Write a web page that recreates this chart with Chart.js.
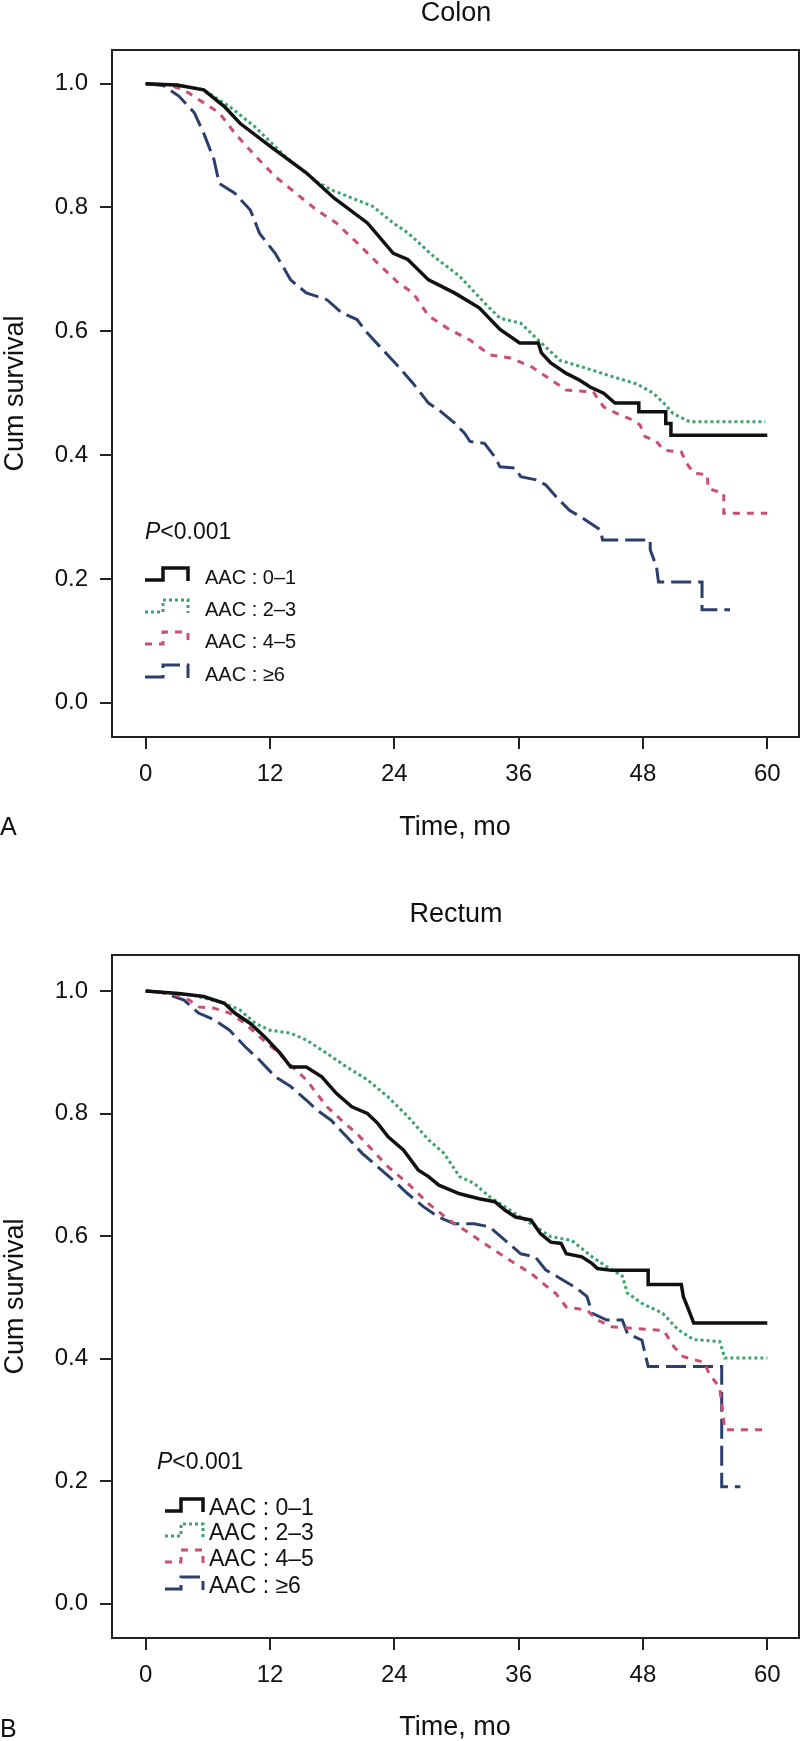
<!DOCTYPE html>
<html>
<head>
<meta charset="utf-8">
<script src="https://cdn.jsdelivr.net/npm/chart.js@4.4.1/dist/chart.umd.min.js"></script>
<style>
  html, body { margin: 0; padding: 0; background: #fff; }
  canvas { display: block; }
</style>
</head>
<body>
<canvas id="colonChart" width="800" height="870"></canvas>
<canvas id="rectumChart" width="800" height="871"></canvas>
<script>
// axis ticks and group names
const monthTicks = [0, 12, 24, 36, 48, 60];
const survivalTicks = [0, 0.2, 0.4, 0.6, 0.8, 1.0];
const groupLabels = ['AAC : 0\u20131', 'AAC : 2\u20133', 'AAC : 4\u20135', 'AAC : \u22656'];

// Colon (panel A)
const colonT01 = [0, 3, 5.6, 7.6, 9.1, 12, 15.5, 18.2, 21.4, 23.9, 25.3, 27.3, 29.8, 32.2, 34.2, 36.1, 37.9, 38.2, 39.1, 40.6, 41.9, 42.9, 44.2, 45.3, 47.6, 47.6, 50.2, 50.2, 50.7, 50.7, 60];
const colonS01 = [1, 0.998, 0.99, 0.963, 0.936, 0.899, 0.856, 0.815, 0.775, 0.726, 0.716, 0.683, 0.662, 0.638, 0.603, 0.581, 0.581, 0.565, 0.549, 0.532, 0.521, 0.51, 0.5, 0.484, 0.484, 0.47, 0.47, 0.451, 0.451, 0.432, 0.432];
const colonT23 = [0, 3, 5.6, 8.1, 10.5, 13.5, 16.5, 18, 20.4, 21.9, 23.9, 25.3, 27.8, 30.3, 32.7, 34.2, 36.2, 38.2, 40, 42.6, 45, 47.4, 49, 50, 50.9, 52.5, 59.8];
const colonS23 = [1, 0.998, 0.99, 0.963, 0.931, 0.882, 0.842, 0.828, 0.812, 0.802, 0.775, 0.759, 0.721, 0.689, 0.646, 0.621, 0.613, 0.581, 0.553, 0.54, 0.527, 0.515, 0.5, 0.484, 0.467, 0.454, 0.454];
const colonT45 = [0, 2.2, 3.7, 5.6, 7.1, 8.6, 10.6, 12.5, 14.5, 16.5, 18.4, 20.4, 22.4, 24.4, 25.8, 27.3, 29.3, 31.3, 33.2, 35.2, 37.2, 39.1, 40.6, 43.2, 44.2, 45.5, 46.7, 47.7, 48.2, 49.3, 50, 51.7, 52.2, 52.9, 54.2, 54.3, 55.8, 55.8, 60];
const colonS45 = [1, 0.998, 0.99, 0.969, 0.953, 0.92, 0.883, 0.85, 0.823, 0.796, 0.775, 0.743, 0.71, 0.678, 0.662, 0.625, 0.603, 0.586, 0.562, 0.557, 0.543, 0.522, 0.505, 0.502, 0.478, 0.467, 0.459, 0.449, 0.43, 0.422, 0.408, 0.405, 0.387, 0.371, 0.368, 0.346, 0.338, 0.306, 0.306];
const colonT6 = [0, 1.7, 3.2, 4.7, 5.6, 6.6, 7.1, 8.6, 10.1, 11, 12.5, 14, 15.5, 17.5, 18.9, 20.4, 21.4, 22.9, 24.4, 25.8, 27.3, 28.3, 29.8, 30.8, 31.3, 32.7, 33.7, 34.2, 35.7, 36.2, 37.7, 38.6, 39.6, 40.9, 42.2, 43.9, 44.1, 48.7, 48.7, 49.3, 49.5, 53.7, 53.7, 56.4];
const colonS6 = [1, 0.997, 0.98, 0.953, 0.92, 0.877, 0.839, 0.823, 0.796, 0.758, 0.726, 0.683, 0.662, 0.651, 0.63, 0.619, 0.597, 0.57, 0.543, 0.516, 0.484, 0.473, 0.452, 0.435, 0.422, 0.419, 0.397, 0.381, 0.379, 0.365, 0.36, 0.352, 0.333, 0.311, 0.298, 0.279, 0.263, 0.263, 0.247, 0.22, 0.195, 0.195, 0.15, 0.15];

// Rectum (panel B)
const rectumT01 = [0, 3.2, 5.6, 7.6, 8.6, 10.1, 11.5, 13, 14, 15.5, 17, 18.4, 19.9, 21.4, 22.4, 23.4, 24.9, 26.3, 27.3, 28.3, 30.3, 32.2, 33.7, 34.7, 35.7, 37.2, 38.1, 39.1, 40.1, 40.6, 42.1, 43.1, 43.6, 45, 48.5, 48.5, 51.7, 51.9, 52.4, 52.9, 60];
const rectumS01 = [1, 0.996, 0.991, 0.98, 0.964, 0.947, 0.925, 0.898, 0.876, 0.876, 0.86, 0.833, 0.811, 0.8, 0.784, 0.762, 0.74, 0.708, 0.697, 0.683, 0.669, 0.661, 0.656, 0.642, 0.631, 0.626, 0.604, 0.59, 0.588, 0.571, 0.566, 0.555, 0.547, 0.544, 0.544, 0.521, 0.521, 0.501, 0.48, 0.458, 0.458];
const rectumT23 = [0, 4.6, 7.6, 9.1, 10.6, 12, 14, 15.5, 17.5, 19.4, 21.4, 23.4, 25.3, 27.3, 28.8, 30.3, 31.7, 33.2, 35.2, 37.2, 39.1, 41.1, 43.1, 44.5, 46, 46.5, 47.9, 49.9, 51.4, 52.9, 55.4, 55.9, 60];
const rectumS23 = [1, 0.993, 0.98, 0.969, 0.947, 0.936, 0.931, 0.92, 0.898, 0.876, 0.855, 0.827, 0.795, 0.757, 0.735, 0.697, 0.686, 0.664, 0.642, 0.62, 0.599, 0.593, 0.566, 0.55, 0.535, 0.507, 0.49, 0.474, 0.447, 0.431, 0.428, 0.401, 0.401];
const rectumT45 = [0, 2.5, 4.2, 5.1, 6.6, 8.1, 9.6, 11, 12.5, 13.5, 14.5, 15.5, 16.5, 17.5, 18.9, 20.4, 21.9, 23.4, 25.3, 27.3, 29.3, 31.3, 33.2, 35.2, 37.2, 39.1, 39.6, 40.6, 42.6, 43.6, 45, 47.5, 50, 51, 51.9, 53.9, 54.4, 55.4, 55.9, 60];
const rectumS45 = [1, 0.996, 0.985, 0.974, 0.972, 0.964, 0.947, 0.925, 0.904, 0.887, 0.871, 0.855, 0.833, 0.811, 0.789, 0.767, 0.74, 0.713, 0.686, 0.653, 0.626, 0.604, 0.582, 0.56, 0.539, 0.512, 0.506, 0.484, 0.479, 0.463, 0.452, 0.449, 0.446, 0.419, 0.403, 0.394, 0.375, 0.353, 0.284, 0.284];
const rectumT6 = [0, 1.5, 3.7, 5.1, 6.6, 8.1, 9.6, 11, 12.5, 14, 15.5, 16.5, 17.9, 19.4, 20.9, 22.4, 23.9, 25.3, 26.8, 28.3, 29.8, 31.7, 33.2, 34.7, 36.2, 37.6, 38.6, 40.1, 41.6, 42.6, 43.1, 44.5, 46, 46.5, 47.9, 48.5, 55.6, 55.6, 57.4];
const rectumS6 = [1, 0.998, 0.985, 0.964, 0.953, 0.936, 0.909, 0.887, 0.86, 0.844, 0.822, 0.806, 0.789, 0.762, 0.735, 0.713, 0.691, 0.669, 0.648, 0.631, 0.62, 0.62, 0.615, 0.593, 0.571, 0.566, 0.545, 0.53, 0.515, 0.501, 0.474, 0.463, 0.463, 0.441, 0.43, 0.387, 0.387, 0.191, 0.191];

const FONT = '"Liberation Sans", Arial, Helvetica, sans-serif';

// line look of each group
const lineStyles = [
    { color: '#111111', width: 3.5, dash: [] },
    { color: '#3aa46a', width: 3, dash: [3, 3] },
    { color: '#cc4d6e', width: 3, dash: [7, 7] },
    { color: '#2b3f6e', width: 3, dash: [20, 7] }
];

// draws the frame, titles, P value and the legend
const framePlugin = {
    id: 'frame',
    afterDraw(chart, args, o) {
        const ctx = chart.ctx;
        const a = chart.chartArea;
        ctx.save();
        ctx.strokeStyle = '#222';
        ctx.lineWidth = 2;
        ctx.setLineDash([]);
        ctx.strokeRect(a.left, a.top, a.right - a.left, a.bottom - a.top);

        ctx.fillStyle = '#111';
        ctx.textAlign = 'center';
        ctx.textBaseline = 'alphabetic';
        ctx.font = '27px ' + FONT;
        ctx.fillText(o.title, 456, o.titleY);
        ctx.fillText('Time, mo', 455, o.xTitleY);
        ctx.textAlign = 'left';
        ctx.font = '25px ' + FONT;
        ctx.fillText(o.letter, 0, o.letterY);

        ctx.save();
        ctx.translate(23, (a.top + a.bottom) / 2);
        ctx.rotate(-Math.PI / 2);
        ctx.textAlign = 'center';
        ctx.font = '27px ' + FONT;
        ctx.fillText('Cum survival', 0, 0);
        ctx.restore();

        // P value
        ctx.textBaseline = 'middle';
        ctx.font = 'italic 23px ' + FONT;
        ctx.fillText('P', o.pX, o.pY);
        const pw = ctx.measureText('P').width;
        ctx.font = '23px ' + FONT;
        ctx.fillText('<0.001', o.pX + pw, o.pY);

        // legend rows
        chart.data.datasets.forEach((ds, i) => {
            const c = o.rowY[i];
            const s = o.sym;
            ctx.beginPath();
            ctx.strokeStyle = ds.borderColor;
            ctx.lineWidth = ds.borderWidth;
            ctx.setLineDash(ds.borderDash);
            ctx.moveTo(s[0], c + 2);
            ctx.lineTo(s[1], c + 2);
            ctx.lineTo(s[1], c - 10);
            ctx.lineTo(s[2], c - 10);
            ctx.lineTo(s[2], c + 3);
            ctx.stroke();
            ctx.setLineDash([]);
            ctx.fillStyle = '#111';
            ctx.font = o.legendSize + 'px ' + FONT;
            ctx.fillText(ds.label, o.textX, c);
        });
        ctx.restore();
    }
};

function makePanel(canvasId, series, o) {
    const datasets = series.map((sr, i) => ({
        label: groupLabels[i],
        data: sr[0].map((t, k) => ({ x: t, y: sr[1][k] })),
        borderColor: lineStyles[i].color,
        borderWidth: lineStyles[i].width,
        borderDash: lineStyles[i].dash,
        borderCapStyle: 'butt',
        borderJoinStyle: 'miter',
        pointRadius: 0,
        tension: 0,
        fill: false
    }));

    const tickFont = { family: FONT, size: 24 };

    new Chart(document.getElementById(canvasId).getContext('2d'), {
        type: 'line',
        data: { datasets: datasets },
        plugins: [framePlugin],
        options: {
            responsive: false,
            animation: false,
            devicePixelRatio: 1,
            layout: {
                padding: { top: o.boxTop, right: 800 - o.boxRight, left: 0, bottom: 0 }
            },
            plugins: {
                legend: { display: false },
                title: { display: false },
                tooltip: { enabled: false },
                frame: o
            },
            scales: {
                x: {
                    type: 'linear',
                    min: o.xMin,
                    max: o.xMax,
                    afterBuildTicks: s => { s.ticks = monthTicks.map(v => ({ value: v })); },
                    afterFit: s => { s.height = o.height - o.boxBottom; },
                    border: { display: false },
                    grid: { drawOnChartArea: false, drawTicks: true, tickLength: 12, color: '#222', lineWidth: 2 },
                    ticks: { font: tickFont, color: '#111', padding: 11, maxRotation: 0, autoSkip: false, callback: v => String(v) }
                },
                y: {
                    type: 'linear',
                    min: o.yMin,
                    max: o.yMax,
                    afterBuildTicks: s => { s.ticks = survivalTicks.map(v => ({ value: v })); },
                    afterFit: s => { s.width = o.boxLeft; },
                    border: { display: false },
                    grid: { drawOnChartArea: false, drawTicks: true, tickLength: 12, color: '#222', lineWidth: 2 },
                    ticks: { font: tickFont, color: '#111', padding: 12, autoSkip: false, callback: v => v.toFixed(1) }
                }
            }
        }
    });
}

makePanel('colonChart',
    [[colonT01, colonS01], [colonT23, colonS23], [colonT45, colonS45], [colonT6, colonS6]],
    {
        height: 870, boxLeft: 112, boxRight: 799, boxTop: 50, boxBottom: 737,
        xMin: -3.25, xMax: 63.06, yMin: -0.0554, yMax: 1.0544,
        title: 'Colon', titleY: 21, xTitleY: 835, letter: 'A', letterY: 835,
        pX: 145, pY: 533, rowY: [578, 610, 642, 675], sym: [145, 163, 188],
        textX: 205, legendSize: 20
    });

makePanel('rectumChart',
    [[rectumT01, rectumS01], [rectumT23, rectumS23], [rectumT45, rectumS45], [rectumT6, rectumS6]],
    {
        height: 871, boxLeft: 112, boxRight: 799, boxTop: 85, boxBottom: 768,
        xMin: -3.25, xMax: 63.06, yMin: -0.056, yMax: 1.0587,
        title: 'Rectum', titleY: 52, xTitleY: 865, letter: 'B', letterY: 867,
        pX: 157, pY: 593, rowY: [639, 664, 690, 717], sym: [165, 181, 203],
        textX: 209, legendSize: 23
    });
</script>
</body>
</html>
